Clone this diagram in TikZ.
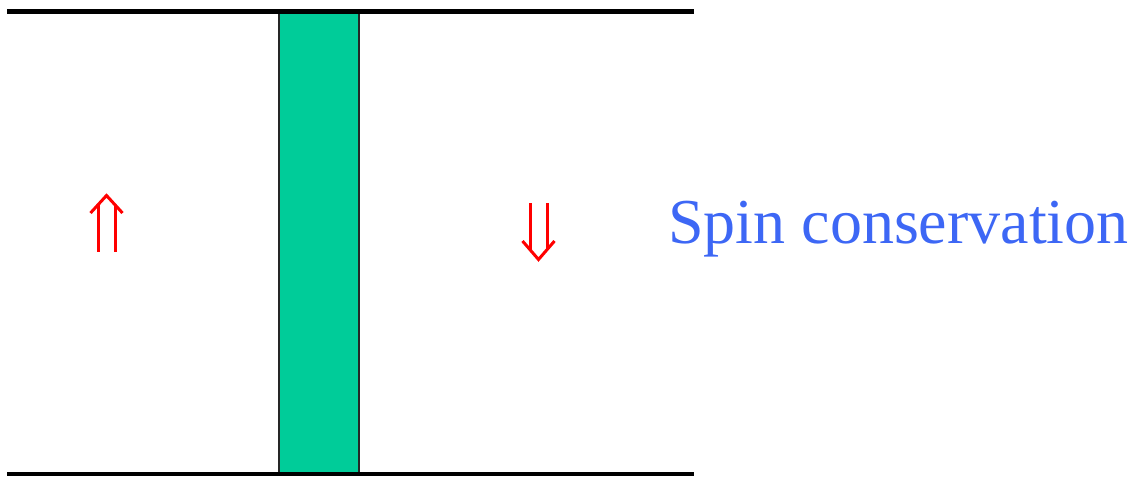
\documentclass[tikz,border=0pt]{standalone}
\usepackage{fontspec}
\setmainfont{Liberation Serif}
\definecolor{barfill}{RGB}{0,204,153}
\definecolor{labelblue}{RGB}{61,103,245}
\definecolor{spinred}{RGB}{255,0,0}
\begin{document}
\begin{tikzpicture}[x=1pt,y=-1pt,
  rail/.style={line width=4.5pt},
  barrier/.style={draw=black!85,line width=1.3pt,fill=barfill},
  spin/.style={draw=spinred,line width=3pt,line join=miter},
  caption/.style={text=labelblue,inner sep=0pt,anchor=base west,font=\fontsize{64}{64}\selectfont}]
  \useasboundingbox (0,0) rectangle (1142,477);
  % tunnel barrier between the two ferromagnetic electrodes
  \node[barrier,minimum width=80pt,minimum height=462pt,inner sep=0pt] (bar) at (319,243) {};
  % top and bottom rails
  \coordinate (tl) at (7,11.5);
  \coordinate (tr) at (694,11.5);
  \coordinate (bl) at (7,474);
  \coordinate (br) at (694,474);
  \draw[rail] (tl) -- (tr);
  \draw[rail] (bl) -- (br);
  % spin up (left electrode): double shaft with open head
  \draw[spin] (98,205) -- (98,252) (115,205) -- (115,252);
  \draw[spin] (90.5,213) -- (106.5,195.5) -- (122.5,213);
  % spin down (right electrode)
  \draw[spin] (530,203) -- (530,250) (547,203) -- (547,250);
  \draw[spin] (522.5,241) -- (538.5,259.5) -- (554.5,241);
  % label
  \node[caption] (lbl) at (668,243) {Spin conservation};
\end{tikzpicture}
\end{document}
